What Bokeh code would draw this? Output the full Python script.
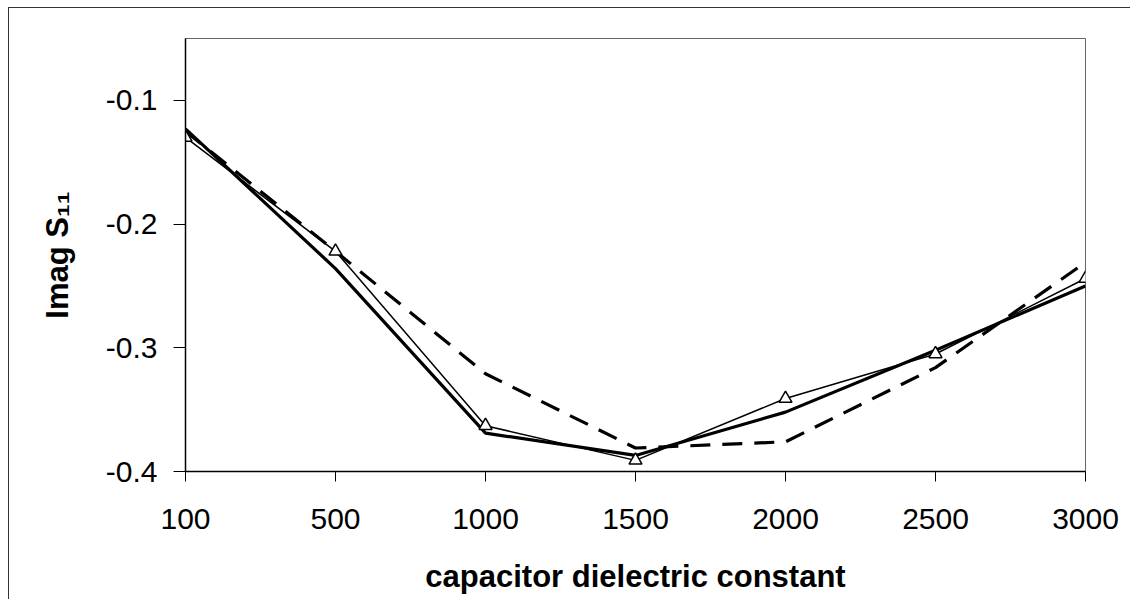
from bokeh.plotting import figure
from bokeh.models import Range1d, FixedTicker, NumeralTickFormatter, ColumnDataSource
from bokeh.embed import file_html
from bokeh.resources import INLINE

# ---- data ----
categories = ["100", "500", "1000", "1500", "2000", "2500", "3000"]
thick_solid = [-0.123, -0.236, -0.369, -0.387, -0.352, -0.302, -0.250]
thin_triangles = [-0.130, -0.222, -0.363, -0.391, -0.341, -0.305, -0.244]
dashed = [-0.125, -0.222, -0.321, -0.381, -0.376, -0.316, -0.231]
y_ticks = [-0.4, -0.3, -0.2, -0.1]
y_min, y_max = -0.4, -0.05

x = list(range(len(categories)))
src = ColumnDataSource(dict(x=x, thick=thick_solid, thin=thin_triangles, dash=dashed))

FONT = "Liberation Sans"

p = figure(width=1122, height=592, output_backend="svg", toolbar_location=None,
           x_range=Range1d(0, len(categories) - 1), y_range=Range1d(y_min, y_max),
           min_border_left=176, min_border_right=46, min_border_top=30, min_border_bottom=129)
p.margin = (7, 0, 0, 8)
p.styles = {"border-left": "1px solid #333333", "border-top": "1px solid #333333"}

p.background_fill_color = "white"
p.border_fill_color = "white"
p.outline_line_color = "#666666"
p.outline_line_width = 1
p.xgrid.visible = False
p.ygrid.visible = False

# lines
p.line("x", "dash", source=src, line_color="black", line_width=3.2, line_dash="20 12")
p.line("x", "thick", source=src, line_color="black", line_width=3.2)
p.line("x", "thin", source=src, line_color="black", line_width=1.5)
p.scatter("x", "thin", source=src, marker="triangle", size=13, fill_color="white",
          line_color="black", line_width=1.5)

# x axis
xa = p.xaxis[0]
xa.ticker = FixedTicker(ticks=x)
xa.major_label_overrides = {i: c for i, c in enumerate(categories)}
xa.axis_label = "capacitor dielectric constant"
xa.axis_label_text_font = FONT
xa.axis_label_text_font_style = "bold"
xa.axis_label_text_font_size = "31px"
xa.axis_label_text_color = "black"
xa.axis_label_standoff = 27
xa.major_label_text_font = FONT
xa.major_label_text_font_size = "30px"
xa.major_label_text_color = "black"
xa.major_label_standoff = 27
xa.major_tick_out = 10
xa.major_tick_in = 0
xa.minor_tick_out = 0
xa.minor_tick_in = 0
xa.axis_line_color = "black"
xa.axis_line_width = 1.5
xa.major_tick_line_color = "black"

# y axis
ya = p.yaxis[0]
ya.ticker = FixedTicker(ticks=y_ticks)
ya.formatter = NumeralTickFormatter(format="0.0")
ya.axis_label = "Imag S\u2081\u2081"
ya.axis_label_text_font = FONT
ya.axis_label_text_font_style = "bold"
ya.axis_label_text_font_size = "31px"
ya.axis_label_text_color = "black"
ya.axis_label_standoff = 28
ya.major_label_text_font = FONT
ya.major_label_text_font_size = "30px"
ya.major_label_text_color = "black"
ya.major_label_standoff = 16
ya.major_tick_out = 12
ya.major_tick_in = 0
ya.minor_tick_out = 0
ya.minor_tick_in = 0
ya.axis_line_color = "black"
ya.axis_line_width = 1.5
ya.major_tick_line_color = "black"

open("out.html", "w").write(file_html(p, INLINE))
